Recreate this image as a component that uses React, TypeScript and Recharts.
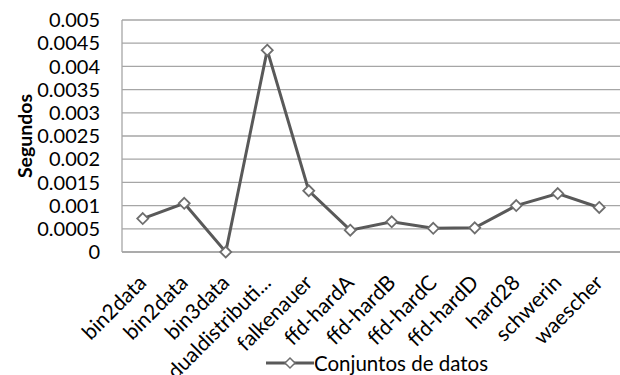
import React from "react";
import { LineChart, Line, XAxis, YAxis, CartesianGrid, Legend } from "recharts";

const categories = [
  "bin2data", "bin2data", "bin3data", "dualdistributi...", "falkenauer", "ffd-hardA",
  "ffd-hardB", "ffd-hardC", "ffd-hardD", "hard28", "schwerin", "waescher",
];
const seconds = [
  0.00072, 0.00105, 0.0, 0.00435, 0.00132, 0.00047,
  0.00065, 0.00051, 0.00052, 0.001, 0.00126, 0.00096,
];
const yTicks = [0, 0.0005, 0.001, 0.0015, 0.002, 0.0025, 0.003, 0.0035, 0.004, 0.0045, 0.005];
const seriesName = "Conjuntos de datos";

const data = categories.map((c, i) => ({ name: c, value: seconds[i] }));

const FONT = "Lato, 'Open Sans', sans-serif";

const Diamond = (props: any) => {
  const { cx, cy } = props;
  if (cx == null || cy == null) return null;
  const r = 5.5;
  return (
    <path
      d={`M${cx},${cy - r} L${cx + r},${cy} L${cx},${cy + r} L${cx - r},${cy} Z`}
      fill="#ffffff"
      stroke="#6e6e6e"
      strokeWidth={1.8}
    />
  );
};

const XTick = (props: any) => {
  const { x, y, payload } = props;
  return (
    <g transform={`translate(${x + 5},${y + 24})`}>
      <text transform="rotate(-45)" textAnchor="end" fontSize={21} fontFamily={FONT} fill="#000">
        {payload.value}
      </text>
    </g>
  );
};

const fmt = (v: number) => (v === 0 ? "0" : String(v));

const LegendContent = () => (
  <div style={{ display: "flex", justifyContent: "center", alignItems: "center", height: 30, paddingLeft: 134, paddingTop: 6, boxSizing: "border-box" }}>
    <svg width={48} height={14}>
      <line x1={0} y1={7} x2={48} y2={7} stroke="#595959" strokeWidth={3} />
      <path d="M24,2 L29,7 L24,12 L19,7 Z" fill="#fff" stroke="#6e6e6e" strokeWidth={1.5} />
    </svg>
    <span style={{ fontFamily: FONT, fontSize: 20.5, lineHeight: "22px", color: "#000" }}>{seriesName}</span>
  </div>
);

export default function App() {
  return (
    <div style={{ position: "absolute", left: 0, top: 0, background: "#fff" }}>
      <LineChart width={620} height={375} data={data} margin={{ top: 20, right: 0, left: 0, bottom: 0 }}>
        <CartesianGrid vertical={false} stroke="#a6a6a6" strokeWidth={1.3} />
        <XAxis
          dataKey="name"
          interval={0}
          height={93}
          padding={{ left: 20.75, right: 20.75 }}
          tick={<XTick />}
          tickLine={false}
          axisLine={{ stroke: "#a6a6a6", strokeWidth: 1.3 }}
        />
        <YAxis
          width={122}
          domain={[0, 0.005]}
          ticks={yTicks}
          interval={0}
          tickFormatter={fmt}
          tickLine={false}
          axisLine={{ stroke: "#a6a6a6", strokeWidth: 1.3 }}
          tick={{ fontSize: 20, fontFamily: FONT, fill: "#000" }}
          tickMargin={16}
          label={{
            value: "Segundos",
            angle: -90,
            position: "insideLeft",
            offset: 25,
            style: { fontSize: 19.5, fontWeight: "bold", fontFamily: FONT, fill: "#000", textAnchor: "middle" },
          }}
        />
        <Legend verticalAlign="bottom" height={30} content={<LegendContent />} />
        <Line
          type="linear"
          dataKey="value"
          name={seriesName}
          stroke="#595959"
          strokeWidth={3}
          dot={<Diamond />}
          activeDot={false}
          isAnimationActive={false}
        />
      </LineChart>
    </div>
  );
}
